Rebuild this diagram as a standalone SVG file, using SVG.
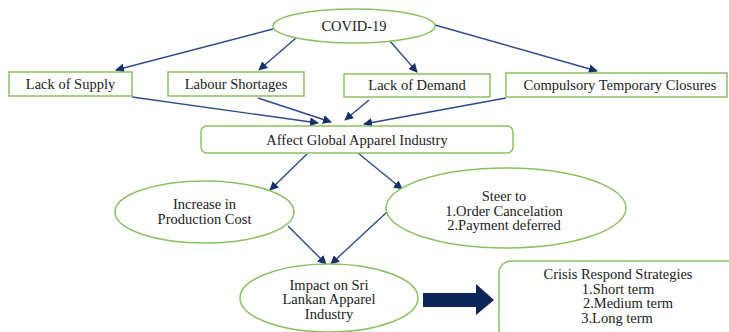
<svg xmlns="http://www.w3.org/2000/svg" width="729" height="332" viewBox="0 0 729 332">
<defs>
<style>
.n{fill:#fff;stroke:#8dc063;stroke-width:1.5}
.t{font-family:"Liberation Serif","Times New Roman",serif;font-size:14.5px;fill:#222;text-anchor:middle}
.c{stroke:#2d4a8a;stroke-width:1.4;fill:none;marker-end:url(#ah)}
</style>
<marker id="ah" viewBox="0 0 10 10" refX="9" refY="5" markerWidth="9" markerHeight="9" markerUnits="userSpaceOnUse" orient="auto">
<path d="M0,0 L10,5 L0,10 z" fill="#16306b"/>
</marker>
</defs>
<rect width="729" height="332" fill="#fff"/>
<g id="connectors">
<line class="c" x1="273" y1="29" x2="116" y2="70"/>
<line class="c" x1="296" y1="38" x2="259" y2="70"/>
<line class="c" x1="389" y1="40" x2="417" y2="72"/>
<line class="c" x1="435" y1="25" x2="597" y2="71"/>
<line class="c" x1="132" y1="97" x2="318" y2="123"/>
<line class="c" x1="258" y1="98" x2="331" y2="122"/>
<line class="c" x1="369" y1="100" x2="345" y2="120"/>
<line class="c" x1="506" y1="98" x2="364" y2="124"/>
<line class="c" x1="307" y1="154" x2="270" y2="190"/>
<line class="c" x1="358" y1="153" x2="402" y2="189"/>
<line class="c" x1="288" y1="226" x2="326" y2="264"/>
<line class="c" x1="387" y1="212" x2="331" y2="264"/>
<path id="block-arrow" d="M423,293 H476 V284 L494,300 L476,315 V307 H423 Z" fill="#0b2559"/>
</g>
<g id="covid"><ellipse class="n" cx="354" cy="26" rx="81" ry="17"/><text class="t" x="354" y="31">COVID-19</text></g>
<g id="lack-supply"><rect class="n" x="9" y="72" width="123" height="24"/><text class="t" x="70.5" y="89">Lack of Supply</text></g>
<g id="labour"><rect class="n" x="168" y="72" width="136" height="24"/><text class="t" x="236" y="89">Labour Shortages</text></g>
<g id="lack-demand"><rect class="n" x="344" y="74" width="146" height="23"/><text class="t" x="417" y="90">Lack of Demand</text></g>
<g id="closures"><rect class="n" x="506" y="73" width="221" height="24"/><text class="t" x="620" y="90">Compulsory Temporary Closures</text></g>
<g id="affect"><rect class="n" x="201" y="126" width="312" height="27" rx="6"/><text class="t" x="357" y="145">Affect Global Apparel Industry</text></g>
<g id="increase"><ellipse class="n" cx="204.5" cy="212" rx="89.5" ry="31"/><text class="t" x="204.5" y="209">Increase in</text><text class="t" x="204.5" y="224">Production Cost</text></g>
<g id="steer"><ellipse class="n" cx="506" cy="208" rx="120" ry="40"/><text class="t" x="504" y="201">Steer to</text><text class="t" x="504" y="216">1.Order Cancelation</text><text class="t" x="504" y="230">2.Payment deferred</text></g>
<g id="impact"><ellipse class="n" cx="329" cy="298" rx="89" ry="34"/><text class="t" x="329" y="290">Impact on Sri</text><text class="t" x="329" y="304">Lankan Apparel</text><text class="t" x="329" y="319">Industry</text></g>
<g id="crisis"><rect class="n" x="499" y="261" width="240" height="80" rx="12"/><text class="t" x="618" y="279">Crisis Respond Strategies</text><text class="t" x="618" y="294">1.Short term</text><text class="t" x="628" y="308">2.Medium term</text><text class="t" x="617" y="323">3.Long term</text></g>
</svg>
